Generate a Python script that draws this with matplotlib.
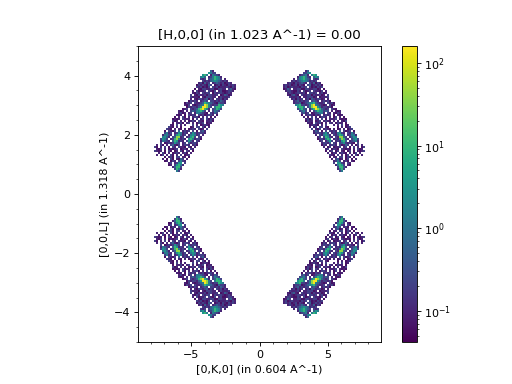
import numpy as np
from matplotlib import pyplot as plt
from matplotlib.colors import LogNorm
from matplotlib.ticker import AutoMinorLocator

TITLE = "[H,0,0] (in 1.023 A^-1) = 0.00"
XLABEL = "[0,K,0] (in 0.604 A^-1)"
YLABEL = "[0,0,L] (in 1.318 A^-1)"

# intensity for each digit in the rows below, "." = no counts
LEVELS = [0, 0.06, 0.1, 0.2, 0.5, 1.2, 3.0, 10.0, 40.0, 150.0]

# upper right quadrant, the others are mirrored
X_START = 1.6
X_STEP = 0.147
Y_START = 4.2
Y_STEP = 0.068
ROWS = [
    "............24",
    "...........3356",
    ".........23452.576",
    "........2567532.465",
    "......2.3567543.323",
    ".....2323456542323",
    "...2321323432.324132",
    ".23231231321.34123231",
    ".231232221323.3121323",
    ".1243.22331133223312.1",
    "..23321132.3123.32213.2",
    "...2321233231.3323.2312",
    "...213421.322331322312.3",
    "....322231.2233312.12223",
    ".....231323.2314323312.2",
    "......23423233.3432.23231",
    "......2334123456743223.3231",
    ".......5673323589543212.312",
    "........6775.3589964233231",
    "........36743.2579874323.321",
    ".........3453.2.35765343.2.212",
    "..........3423.1234552.32.2132",
    "..........1.23321323.2323.1.212",
    "...........2.1.3.2.1332.2.13.2.1",
    "............2313.32.3.1.2223.2121",
    "............1322.123.2321.2.2.213",
    ".............221.3231.2.32.1322.1",
    "..............12321.2.3...2.2.3.12",
    "..............2.13.33.21....1.2.123",
    "...............3.213.2321.2.12.2.123",
    "................243.1.3.3232.4.3123.1",
    "................23332463.2325632.3253",
    ".................2.325652.324763.23552",
    "..................23.37632.328843.2465",
    "..................1332576.23258732.3563",
    "...................23.2463.232674.23452",
    "....................23324.32.34632321.3",
    "....................132.2332.31243.2.13.2",
    ".....................2.13.1223.23.1.3.2.13",
    "......................23.1321.32121.2.312",
    "......................1.23.13.21.13.1.2123",
    ".......................2.132.2321.2.13.2",
    "........................321.3.2.13.2.31.2",
    "........................1.22.33.132.1",
    ".........................2.3412.13.1.2",
    "..........................2353.231.21",
    "..........................3.6632.32",
    "...........................25763.21",
    "............................37742",
    "............................2573",
    ".............................35",
]

width = max(len(row) for row in ROWS)
grid = np.full((len(ROWS), width), np.nan)
for r, row in enumerate(ROWS):
    for c, ch in enumerate(row):
        if ch != ".":
            grid[r, c] = LEVELS[int(ch)]

x_edges = X_START + X_STEP * np.arange(width + 1)
y_edges = Y_START - Y_STEP * np.arange(len(ROWS) + 1)

fig = plt.figure(figsize=(6.4, 4.8), dpi=80)
ax = fig.add_axes([138 / 512, 42 / 384, 243 / 512, 296 / 384])
norm = LogNorm(vmin=0.042, vmax=160)

for sx in (1, -1):
    for sy in (1, -1):
        mesh = ax.pcolormesh(sx * x_edges, sy * y_edges, np.ma.masked_invalid(grid),
                             cmap="viridis", norm=norm)

ax.set_xlim(-8.93, 8.93)
ax.set_ylim(-5, 5)
ax.set_title(TITLE)
ax.set_xlabel(XLABEL)
ax.set_ylabel(YLABEL)
ax.xaxis.set_minor_locator(AutoMinorLocator())
ax.yaxis.set_minor_locator(AutoMinorLocator())

cax = fig.add_axes([401.5 / 512, 42 / 384, 15 / 512, 296 / 384])
fig.colorbar(mesh, cax=cax)

fig.savefig("out.png", dpi=80)
